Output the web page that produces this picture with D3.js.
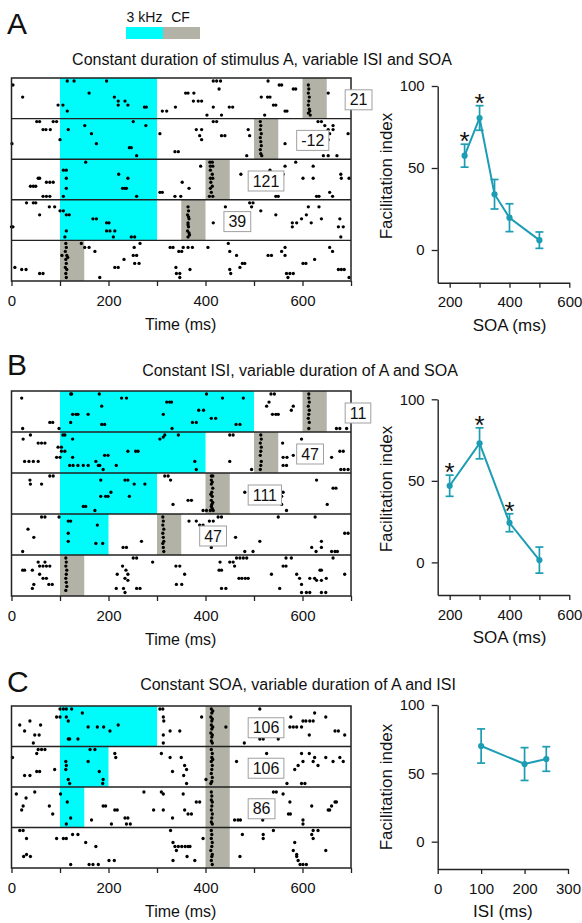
<!DOCTYPE html>
<html>
<head>
<meta charset="utf-8">
<script src="https://cdn.jsdelivr.net/npm/d3@7"></script>
<style>
  body { margin: 0; background: #fff; }
  svg { display: block; }
  text { font-family: "Liberation Sans", Arial, sans-serif; }
</style>
</head>
<body>
<script>
// ---- shared ----
const tickTimes = [0, 100, 200, 300, 400, 500, 600, 700];
const cfDur = 50;

// ---- panel A: constant A duration, variable ISI/SOA ----
const toneA = [[100, 300], [100, 300], [100, 300], [100, 300], null];
const cfOnsetA = [600, 500, 400, 350, 100];
const countA = ["21", "-12", "121", "39", null];
const spikesA = [
  [[3,1],[23,4],[96,6],[106,6],[115,0],[129,0],[160,3],[115,7.5],[196,0],[212,4],[220,5],[220,6],[234,5],[240,6],[274,6.5],[278,6.5],[311,7.5],[320,7.5],[338,6.5],[359,3],[364,3],[375,5],[385,5],[392,5],[376,3],[403,8.5],[416,0],[423,0],[431,0],[428,2],[416,6.5],[433,8.5],[449,6.5],[456,6.5],[529,0],[515,4],[528,4],[533,4],[552,1],[557,1],[540,6],[545,6],[522,8.5],[564,7.5],[568,7.5],[581,2],[586,2],[653,3],
   [612,1],[613,2],[612,3],[614,4],[613,5],[612,6],[614,7],[615,7.5],[616,8.5],[612,8]],
  [[52,0],[58,0],[86,0],[93,0],[65,2],[71,2],[80,2],[1,5.5],[100,4.5],[117,2],[151,1],[165,3],[175,5.5],[243,6.5],[247,6.5],[258,8.5],[251,0],[277,1],[306,3],[337,7.5],[344,7.5],[381,2],[392,2],[388,3.5],[392,4.5],[416,0],[423,0],[433,3.5],[440,3.5],[488,2],[491,3.5],[485,8.5],[564,5.5],[632,0],[639,0],[646,1],[653,2],[656,3],[663,2],[663,1],[653,4.5],[643,8.5],[653,8.5],[671,8.5],[694,3],
   [513,0],[514,1],[513,2],[515,3],[513,4],[514,5],[515,6],[513,7],[514,8],[516,8.5]],
  [[55,4],[58,4],[39,6],[45,6],[50,6],[72,5],[79,5],[86,5],[65,8.5],[72,8.5],[79,8.5],[107,2],[113,2],[113,4],[113,6.5],[107,8.5],[153,0],[221,3],[240,4],[229,6.5],[234,6.5],[237,6.5],[258,8.5],[306,7.5],[311,7.5],[337,8.5],[349,8.5],[352,5],[366,6.5],[390,1],[473,3],[533,2],[560,3],[564,1],[545,8.5],[550,8.5],[586,0],[601,4],[622,1],[622,4],[629,8.5],[634,8.5],[656,7.5],[662,8.5],[679,3],[680,4],[696,4],
   [409,0],[414,0],[410,1],[415,1],[410,2],[414,3],[410,4],[415,4],[411,5],[414,6],[410,6.5],[412,7.5],[415,8.5],[408,8.5]],
  [[31,0],[45,0],[50,0],[58,3],[78,1],[89,1],[0,6],[3,6],[100,2],[107,2],[113,3],[119,3],[168,4],[175,4],[113,7],[110,8.5],[196,5],[201,5],[196,7],[203,7],[213,7],[210,8.5],[247,8.5],[254,8.5],[416,5],[441,1],[491,0],[498,0],[495,1],[514,2],[545,3],[579,5],[588,5],[579,6],[598,4],[608,3],[618,5],[612,1],[634,1],[639,4],[674,6],[684,6],[677,4],[679,8.5],
   [364,1],[365,2],[363,3],[366,4],[364,5],[365,6],[363,7],[366,7.5],[364,8.5],[367,8],[365,3.5],[364,5.5]],
  [[7,6],[21,6.5],[30,6.5],[58,7.5],[65,7.5],[104,3],[144,0],[151,1],[160,1],[172,2],[182,8.5],[213,6],[220,6],[232,4],[251,3],[258,3],[254,5],[263,5],[253,1],[265,0],[327,1],[333,1],[345,2],[351,2],[354,1],[364,1],[373,1],[339,6],[340,7.5],[347,7.5],[347,8.5],[368,6.5],[405,1],[447,0],[450,2],[464,3],[450,6.5],[452,7.5],[471,6],[476,5],[481,5],[529,3],[536,3],[564,1],[557,2],[564,3],[567,7.5],[574,7.5],[581,7.5],[570,8.5],[601,5],[607,5],[625,4],[656,1],[662,2],[674,6.5],[680,6.5],[686,6.5],[696,8.5],
   [112,0],[113,1],[111,2],[114,3],[112,4],[113,5],[111,6],[114,6.5],[112,7.5],[113,8.5],[116,3.5]]
];
const soaA = [250, 300, 350, 400, 500];
const fiA = [57.5, 80.5, 34, 19.7, 6];
const semA = [7, 7.5, 9, 8.5, 5];
const sigA = [1, 1, 0, 0, 0];

// ---- panel B: constant ISI, variable A duration/SOA ----
const toneB = [[100, 500], [100, 400], [100, 300], [100, 200], null];
const cfOnsetB = [600, 500, 400, 300, 100];
const countB = ["11", "47", "111", "47", null];
const spikesB = [
  [[21,1],[23,8.5],[79,7],[85,7],[98,8.5],[122,0],[124,0],[181,0],[186,3],[126,5],[133,5],[137,5],[158,5],[122,7],[186,7.5],[192,7.5],[227,1],[237,1],[320,2],[326,2],[330,2],[313,5],[331,8.5],[373,7],[381,7],[386,4],[396,4],[412,6],[421,6],[402,0],[435,1],[463,7.5],[471,7.5],[478,1],[535,0],[542,0],[531,2],[526,3],[538,5],[545,5],[550,5],[581,3],[577,4],[670,8.5],[677,8.5],[691,8.5],
   [613,0],[613,1],[614,2],[612,3],[614,4],[613,5],[612,6],[614,7],[613,8.5]],
  [[24,1],[39,0],[55,2],[62,2],[69,2],[96,3],[103,3],[106,0],[110,0],[126,1],[103,4],[110,4],[27,6.5],[36,6.5],[45,6.5],[55,6.5],[93,5.5],[100,5.5],[126,5.5],[120,7.5],[127,7.5],[137,7.5],[148,7.5],[158,7.5],[174,6.5],[179,7.5],[182,7.5],[189,8.5],[192,5],[199,5],[216,7.5],[240,4],[256,4],[261,4],[306,1],[313,0.5],[316,0],[344,0],[378,6.5],[381,8.5],[450,0],[457,0],[450,6.5],[495,8.5],[559,2],[598,1],[560,5.5],[568,5.5],[567,7.5],[560,7.5],[581,5],[660,5.5],[677,4],[684,4],[679,8.5],[686,8.5],[694,8.5],
   [514,0],[515,1],[513,2],[515,3],[514,4],[513,5],[515,6.5],[514,7.5],[513,8.5]],
  [[38,1],[39,2],[62,2],[79,0],[86,0],[184,1],[234,1],[240,1],[253,2],[275,2],[184,5],[194,5],[199,5],[205,4],[243,5],[148,7.5],[153,7.5],[172,8.5],[316,0],[323,0],[328,1],[364,6],[371,6],[333,7],[395,8.5],[402,8.5],[481,4],[552,3],[560,4],[557,5],[557,7],[567,8.5],[629,1],[663,3],[669,3],[651,7],
   [412,0],[415,0],[412,1],[414,1.5],[412,2],[415,3],[413,4],[411,4.5],[414,5],[412,6],[415,6.5],[413,7],[412,7.5],[414,8],[410,8.5],[416,8.5]],
  [[62,0],[69,0],[98,0],[117,1],[122,1],[34,3],[46,5],[23,8.5],[117,4],[117,6],[177,2],[174,6.5],[188,6.5],[230,7.5],[237,7.5],[268,6],[366,1],[381,1],[388,2],[395,2],[408,1],[416,1],[426,0],[433,0],[412,7.5],[462,5],[512,6],[550,0],[481,8.5],[498,8.5],[626,0],[639,6],[619,7.5],[628,8.5],[639,7.5],[660,8.5],[667,8.5],[672,8.5],[687,4],[694,4],
   [312,0],[313,1],[312,2],[314,3],[312,4],[313,5],[314,6],[312,6.5],[313,7.5],[314,8.5]],
  [[23,3],[27,3],[43,3],[55,1],[58,2],[65,2],[72,2],[79,2],[58,4],[65,5],[72,5],[69,1],[43,7.5],[46,6.5],[77,6.5],[84,6.5],[251,0],[258,0],[291,1],[229,2],[236,3],[240,4],[218,4],[234,5],[240,5.5],[258,7.5],[265,7.5],[216,7.5],[231,7.5],[234,8.5],[339,2],[347,2],[357,4],[340,6.5],[351,6.5],[430,1],[433,3],[428,3],[450,1],[457,1],[464,0],[471,0],[478,0],[485,0],[460,2],[469,5],[475,5],[482,5],[488,5],[433,7.5],[442,7.5],[536,4],[560,2],[566,2],[566,0],[577,0],[553,7.5],[588,4],[594,5],[598,6.5],[598,8.5],[615,5],[625,5],[636,3],[639,3],[629,5.5],[639,5.5],[649,5],[663,0],[687,4],[608,8.5],[615,8.5],[639,8.5],[648,8.5],
   [112,0],[113,1],[112,2],[114,3],[113,4],[112,5],[113,6],[114,7],[112,8]]
];
const soaB = [200, 300, 400, 500];
const fiB = [47, 73, 24.3, 1.4];
const semB = [6.5, 9.5, 5.5, 8];
const sigB = [1, 1, 1, 0];

// ---- panel C: constant SOA, variable A duration/ISI ----
const toneC = [[100, 300], [100, 200], [100, 150], null];
const cfOnsetC = [400, 400, 400, 400];
const countC = ["106", "106", "86", null];
const spikesC = [
  [[17,4],[38,3],[27,5.5],[48,6.5],[57,6.5],[45,8.5],[60,4],[100,0],[107,0],[113,0],[124,0],[93,2],[100,2],[113,2],[117,3],[146,1],[117,7.5],[120,7.5],[137,7.5],[158,4.5],[177,4.5],[190,4.5],[203,5.5],[220,4],[306,0],[312,0],[313,2],[314,3],[327,5.5],[347,5.5],[313,6.5],[313,8.5],[392,2],[442,4.5],[480,8.5],[512,0],[512,7.5],[519,7.5],[550,7.5],[576,2],[574,4.5],[581,4.5],[588,4.5],[598,4.5],[601,3],[607,3],[615,3],[622,3],[625,1],[614,6.5],[648,2],[667,5.5],[674,5.5],[687,6.5],
   [412,0],[415,0.5],[413,1],[411,2],[414,2.5],[413,3],[412,4],[415,4.5],[413,5],[411,6],[414,6.5],[413,7],[412,8],[414,8.5]],
  [[2,2],[55,0],[62,0],[69,0],[52,1],[27,6.5],[38,6.5],[52,5.5],[58,5.5],[89,5],[112,3],[113,4],[112,5],[117,7.5],[120,8.5],[158,3],[162,0],[172,0],[181,5.5],[189,7.5],[188,8.5],[213,1],[215,2],[309,1],[327,2],[350,2],[357,4],[361,5],[332,5.5],[355,6.5],[361,8.5],[401,7.5],[464,3],[526,1],[546,4],[568,8.5],[584,5],[598,1],[598,8.5],[605,8.5],[601,3],[614,1],[625,2],[622,3],[632,4],[648,2],[663,3],[677,2],[684,3],[591,4],
   [412,0],[414,1],[413,2],[412,3],[414,4],[413,5],[412,6],[414,7],[413,8],[411,8.5],[415,2.5]],
  [[10,1],[30,2],[48,0.5],[21,5],[24,4],[78,4],[85,6],[101,1],[115,3],[122,7],[113,8.5],[165,7.5],[189,4],[194,4],[213,5],[218,5],[206,8.5],[234,7],[240,7],[237,8.5],[245,8.5],[273,0.5],[309,0.5],[313,1],[293,5],[313,5],[332,7],[354,1],[357,5],[364,6],[371,6],[381,3],[388,3],[460,7.5],[467,7.5],[472,7.5],[518,7.5],[540,0.5],[546,0.5],[560,1],[574,3],[571,6],[575,6],[601,7.5],[601,8.5],[619,4],[656,5],[660,4],[667,3],[670,3],[653,5],
   [412,0.5],[413,1.5],[412,2.5],[414,3],[413,4],[412,5],[414,6],[413,7],[412,8],[414,8.5]],
  [[17,0],[24,0],[31,2],[25,6.5],[31,6],[39,6.5],[93,2],[107,2],[113,2],[126,1],[137,1],[153,3],[174,4],[122,8.5],[160,8.5],[168,8.5],[179,8.5],[201,7.5],[212,7.5],[328,0],[333,3],[337,4],[340,5],[344,4],[351,4],[358,4],[364,4],[368,4],[333,7.5],[362,6.5],[378,7.5],[395,2],[471,6.5],[476,1],[519,1],[519,2],[540,0],[584,3],[581,5],[588,6],[588,6.5],[591,7.5],[595,8.5],[601,8.5],[608,8.5],[622,0],[632,0],[619,1],[622,2],[648,5],
   [412,0],[413,1],[412,2],[414,3],[413,4],[411,5],[414,6],[413,6.5],[412,7.5],[414,8.5]]
];
const isiC = [100, 200, 250];
const fiC = [70, 56.8, 60.5];
const semC = [12.5, 12, 9];

// ---- colours ----
const cyan = "#00fbfb";
const cfGray = "#b3b2a6";
const teal = "#1c9db3";

const svg = d3.select("body").append("svg")
  .attr("width", 582)
  .attr("height", 923)
  .style("background", "#fff");

const timeX = d3.scaleLinear().domain([0, 700]).range([11.5, 351]);

function drawRaster(o) {
  const n = o.tone.length;
  const row = d3.scaleLinear().domain([0, n]).range([o.top, o.bottom]);
  const rh = row(1) - row(0);
  const trialY = d3.scaleLinear().domain([0, 8.5]).range([3, rh - 3.5]);
  const g = svg.append("g");

  o.tone.forEach((s, i) => {
    if (!s) return;
    g.append("rect")
      .attr("x", timeX(s[0])).attr("y", row(i))
      .attr("width", timeX(s[1]) - timeX(s[0])).attr("height", rh)
      .attr("fill", cyan);
  });
  o.cf.forEach((c, i) => {
    g.append("rect")
      .attr("x", timeX(c)).attr("y", row(i))
      .attr("width", timeX(c + cfDur) - timeX(c)).attr("height", rh)
      .attr("fill", cfGray);
  });

  o.spikes.forEach((list, i) => {
    g.append("g").selectAll("circle")
      .data(list)
      .join("circle")
      .attr("cx", d => timeX(d[0]))
      .attr("cy", d => row(i) + trialY(d[1]))
      .attr("r", 1.65)
      .attr("fill", "#000");
  });

  // row separators and frame
  g.selectAll(".sep")
    .data(d3.range(1, n))
    .join("line")
    .attr("x1", timeX(0)).attr("x2", timeX(700))
    .attr("y1", d => row(d)).attr("y2", d => row(d))
    .attr("stroke", "#222").attr("stroke-width", 1.4);
  g.append("rect")
    .attr("x", timeX(0)).attr("y", o.top)
    .attr("width", timeX(700) - timeX(0)).attr("height", o.bottom - o.top)
    .attr("fill", "none").attr("stroke", "#222").attr("stroke-width", 1.5);

  const ax = g.append("g")
    .attr("transform", `translate(0,${o.bottom})`)
    .call(d3.axisBottom(timeX).tickValues(tickTimes)
      .tickFormat(d => d % 200 ? "" : d)
      .tickSize(5).tickSizeOuter(0).tickPadding(9));
  ax.select(".domain").remove();
  ax.selectAll("line").attr("stroke", "#222").attr("stroke-width", 1.3);
  ax.selectAll("text").attr("font-size", 15).attr("fill", "#111");

  g.append("text")
    .attr("x", timeX(350) - 0.5).attr("y", o.bottom + 49)
    .attr("text-anchor", "middle").attr("font-size", 16).attr("fill", "#111")
    .text("Time (ms)");

  // spike-count boxes
  o.counts.forEach((c, i) => {
    if (!c) return;
    const bx = timeX(o.cf[i] + cfDur + 38);
    const cy = row(i) + rh / 2 + 1.5;
    const t = g.append("text")
      .attr("y", cy + 5.5)
      .attr("font-size", 16).attr("fill", "#111")
      .text(c);
    const w = t.node().getComputedTextLength() + 9;
    g.insert("rect", () => t.node())
      .attr("x", bx).attr("y", cy - 10)
      .attr("width", w).attr("height", 20)
      .attr("fill", "#fff").attr("stroke", "#a0a0a0").attr("stroke-width", 1);
    t.attr("x", bx + w / 2).attr("text-anchor", "middle");
  });
}

function drawIndex(o) {
  const x = d3.scaleLinear().domain(o.xDomain).range([437.7, o.xRight]);
  const y = d3.scaleLinear().domain([-20, 100]).range([o.bottom, o.top]);
  const g = svg.append("g");

  const xa = g.append("g")
    .attr("transform", `translate(0,${o.bottom})`)
    .call(d3.axisBottom(x).tickValues(o.xTicks)
      .tickFormat(d => o.xLabels.includes(d) ? d : "")
      .tickSize(5).tickSizeOuter(0).tickPadding(9));
  const ya = g.append("g")
    .attr("transform", "translate(437.7,0)")
    .call(d3.axisLeft(y).tickValues([0, 50, 100])
      .tickSize(6).tickSizeOuter(0).tickPadding(7));
  [xa, ya].forEach(a => {
    a.select(".domain").attr("stroke", "#222").attr("stroke-width", 1.4);
    a.selectAll("line").attr("stroke", "#222").attr("stroke-width", 1.3);
    a.selectAll("text").attr("font-size", 15).attr("fill", "#111");
  });

  g.append("text")
    .attr("transform", `translate(392,${o.labelY}) rotate(-90)`)
    .attr("text-anchor", "middle").attr("font-size", 17).attr("fill", "#111")
    .text("Facilitation index");
  g.append("text")
    .attr("x", (x.range()[0] + x.range()[1]) / 2 + o.titleShift).attr("y", o.bottom + 48)
    .attr("text-anchor", "middle").attr("font-size", 17).attr("fill", "#111")
    .text(o.xTitle);

  const pts = o.xs.map((v, i) => ({ x: v, m: o.means[i], e: o.sems[i], s: o.sig ? o.sig[i] : 0 }));

  g.append("path")
    .datum(pts)
    .attr("d", d3.line().x(d => x(d.x)).y(d => y(d.m)))
    .attr("fill", "none").attr("stroke", teal).attr("stroke-width", 2);

  const eb = g.append("g").attr("stroke", teal).attr("stroke-width", 1.7);
  pts.forEach(d => {
    eb.append("line").attr("x1", x(d.x)).attr("x2", x(d.x))
      .attr("y1", y(d.m - d.e)).attr("y2", y(d.m + d.e));
    [d.m - d.e, d.m + d.e].forEach(v => {
      eb.append("line").attr("x1", x(d.x) - 4).attr("x2", x(d.x) + 4)
        .attr("y1", y(v)).attr("y2", y(v));
    });
  });

  g.selectAll(".pt")
    .data(pts)
    .join("circle")
    .attr("cx", d => x(d.x)).attr("cy", d => y(d.m))
    .attr("r", 3.1).attr("fill", teal);

  g.selectAll(".star")
    .data(pts.filter(d => d.s))
    .join("text")
    .attr("x", d => x(d.x)).attr("y", d => y(d.m + d.e) + 6)
    .attr("text-anchor", "middle").attr("font-size", 26).attr("fill", "#111")
    .text("*");
}

// ---- panel letters, titles, legend ----
[["A", 34], ["B", 375], ["C", 692]].forEach(([l, yb]) => {
  svg.append("text").attr("x", 7).attr("y", yb)
    .attr("font-size", 30).attr("fill", "#111").text(l);
});
[["Constant duration of stimulus A, variable ISI and SOA", 262, 65],
 ["Constant ISI, variable duration of A and SOA", 300, 376],
 ["Constant SOA, variable duration of A and ISI", 298, 690]].forEach(([t, cx, yb]) => {
  svg.append("text").attr("x", cx).attr("y", yb)
    .attr("text-anchor", "middle").attr("font-size", 16).attr("fill", "#111").text(t);
});

const legend = svg.append("g");
legend.append("rect").attr("x", 126).attr("y", 27).attr("width", 37).attr("height", 12).attr("fill", cyan);
legend.append("rect").attr("x", 163).attr("y", 27).attr("width", 37).attr("height", 12).attr("fill", cfGray);
legend.append("text").attr("x", 144.5).attr("y", 21.5).attr("text-anchor", "middle")
  .attr("font-size", 14).attr("fill", "#111").text("3 kHz");
legend.append("text").attr("x", 180.5).attr("y", 21.5).attr("text-anchor", "middle")
  .attr("font-size", 14).attr("fill", "#111").text("CF");

// ---- rasters ----
drawRaster({ top: 78, bottom: 281, tone: toneA, cf: cfOnsetA, counts: countA, spikes: spikesA });
drawRaster({ top: 391, bottom: 596, tone: toneB, cf: cfOnsetB, counts: countB, spikes: spikesB });
drawRaster({ top: 706, bottom: 868, tone: toneC, cf: cfOnsetC, counts: countC, spikes: spikesC });

// ---- facilitation index plots ----
drawIndex({ top: 86, bottom: 282.8, xDomain: [160, 600], xRight: 569.3,
  xTicks: [200, 300, 400, 500, 600], xLabels: [200, 400, 600],
  xs: soaA, means: fiA, sems: semA, sig: sigA, xTitle: "SOA (ms)", labelY: 176, titleShift: 6 });
drawIndex({ top: 399.3, bottom: 595, xDomain: [160, 600], xRight: 569.3,
  xTicks: [200, 300, 400, 500, 600], xLabels: [200, 400, 600],
  xs: soaB, means: fiB, sems: semB, sig: sigB, xTitle: "SOA (ms)", labelY: 489, titleShift: 6 });
drawIndex({ top: 705, bottom: 869, xDomain: [0, 300], xRight: 568,
  xTicks: [0, 100, 200, 300], xLabels: [0, 100, 200, 300],
  xs: isiC, means: fiC, sems: semC, sig: null, xTitle: "ISI (ms)", labelY: 787, titleShift: 0 });
</script>
</body>
</html>
